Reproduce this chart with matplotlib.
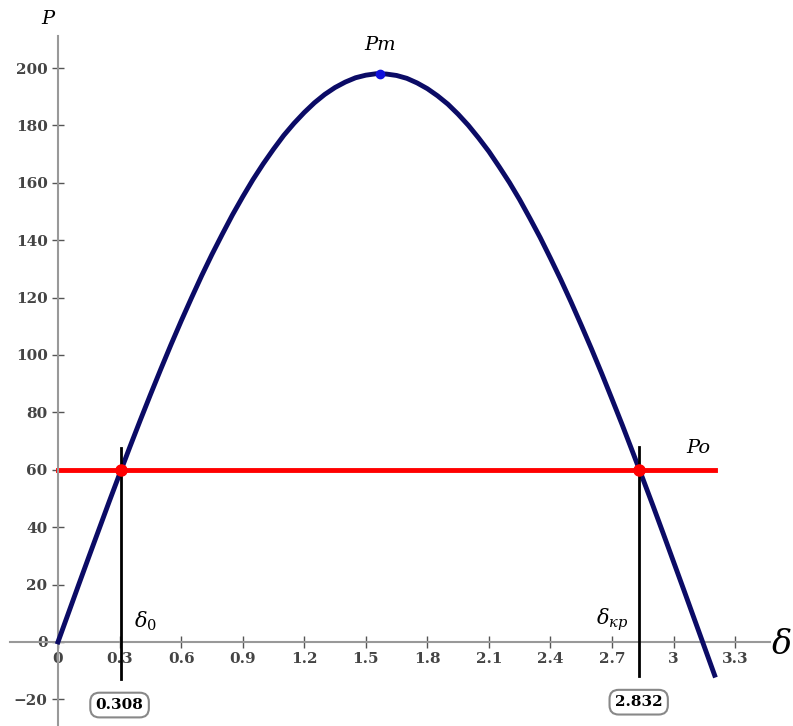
import matplotlib.pyplot as plt
from matplotlib.ticker import FuncFormatter

plt.rcParams['mathtext.fontset'] = 'dejavuserif'

# curve values (P vs delta)
delta = [0.0, 0.05, 0.1, 0.15, 0.2, 0.25, 0.3, 0.35, 0.4, 0.45, 0.5, 0.55,
         0.6, 0.65, 0.7, 0.75, 0.8, 0.85, 0.9, 0.95, 1.0, 1.05, 1.1, 1.15,
         1.2, 1.25, 1.3, 1.35, 1.4, 1.45, 1.5, 1.55, 1.6, 1.65, 1.7, 1.75,
         1.8, 1.85, 1.9, 1.95, 2.0, 2.05, 2.1, 2.15, 2.2, 2.25, 2.3, 2.35,
         2.4, 2.45, 2.5, 2.55, 2.6, 2.65, 2.7, 2.75, 2.8, 2.85, 2.9, 2.95,
         3.0, 3.05, 3.1, 3.15, 3.2]
power = [0.0, 9.9, 19.8, 29.6, 39.3, 49.0, 58.5, 67.9, 77.1, 86.1, 94.9,
         103.5, 111.8, 119.8, 127.6, 135.0, 142.0, 148.8, 155.1, 161.1, 166.6,
         171.7, 176.5, 180.7, 184.5, 187.9, 190.8, 193.2, 195.1, 196.6, 197.5,
         198.0, 197.9, 197.4, 196.4, 194.8, 192.8, 190.3, 187.4, 183.9, 180.0,
         175.6, 170.9, 165.6, 160.1, 154.1, 147.6, 140.9, 133.7, 126.3, 118.5,
         110.4, 102.1, 93.5, 84.6, 75.6, 66.3, 56.9, 47.4, 37.7, 27.9, 18.1,
         8.2, -1.7, -11.6]

p0 = 60
pm = 198
delta_pm = 1.571
delta_0 = 0.308
delta_kr = 2.832
p0_line_x = [0.0, 3.2]

xticks = [0, 0.3, 0.6, 0.9, 1.2, 1.5, 1.8, 2.1, 2.4, 2.7, 3.0, 3.3]
yticks = [-20, 0, 20, 40, 60, 80, 100, 120, 140, 160, 180, 200]

serif = 'DejaVu Serif'
fig = plt.figure(figsize=(7.93, 7.26), dpi=100)
ax = fig.add_axes([0, 0, 1, 1])
ax.set_xlim(-0.2827, 3.582)
ax.set_ylim(-29.3, 223.7)

# axes through origin
for s in ['top', 'right']:
    ax.spines[s].set_visible(False)
ax.spines['left'].set_position(('data', 0))
ax.spines['bottom'].set_position(('data', 0))
ax.spines['left'].set_bounds(-29.3, 211)
ax.spines['bottom'].set_bounds(-0.234, 3.47)
for s in ['left', 'bottom']:
    ax.spines[s].set_color('#999999')
    ax.spines[s].set_linewidth(1.5)

ax.set_xticks(xticks)
ax.set_yticks(yticks)
ax.xaxis.set_major_formatter(FuncFormatter(lambda v, p: '%g' % v))
ax.tick_params(direction='inout', length=8, width=1, color='#555555',
               labelcolor='#444444', labelsize=11)
for lab in ax.get_xticklabels() + ax.get_yticklabels():
    lab.set_family(serif)
    lab.set_fontweight('bold')

# curve and P0 line
ax.plot(delta, power, color='#0b0b66', lw=3.5, zorder=3)
ax.plot(p0_line_x, [p0, p0], color='#ff0000', lw=3.5, zorder=2)

# vertical markers
ax.plot([delta_0, delta_0], [-13, 67.5], color='black', lw=2, zorder=4)
ax.plot([delta_kr, delta_kr], [-12, 68], color='black', lw=2, zorder=4)

# points
ax.plot([delta_0, delta_kr], [p0, p0], 'o', color='#ff0000', ms=8, zorder=5)
ax.plot([delta_pm], [pm], 'o', color='#1010dd', ms=6, zorder=5)

# labels
ax.text(-0.05, 217, 'P', family=serif, style='italic', fontsize=14,
        ha='center', va='center')
ax.text(delta_pm, 208, 'Pm', family=serif, style='italic', fontsize=14,
        ha='center', va='center')
ax.text(3.12, 67.6, 'Po', family=serif, style='italic', fontsize=14,
        ha='center', va='center')
ax.text(0.424, 7, r'$\delta_{0}$', fontsize=15, ha='center', va='center')
ax.text(2.70, 7.6, r'$\delta_{кр}$', fontsize=15, ha='center', va='center')
ax.text(3.53, -1, 'δ', family=serif, style='italic', fontsize=24,
        ha='center', va='center')

box = dict(boxstyle='round,pad=0.35,rounding_size=0.6', fc='white',
           ec='#888888', lw=1.5)
ax.text(0.30, -22, '%.3f' % delta_0, family=serif, fontweight='bold',
        fontsize=11, ha='center', va='center', bbox=box, zorder=6)
ax.text(2.83, -21, '%.3f' % delta_kr, family=serif, fontweight='bold',
        fontsize=11, ha='center', va='center', bbox=box, zorder=6)

fig.savefig('out.png', dpi=100)
